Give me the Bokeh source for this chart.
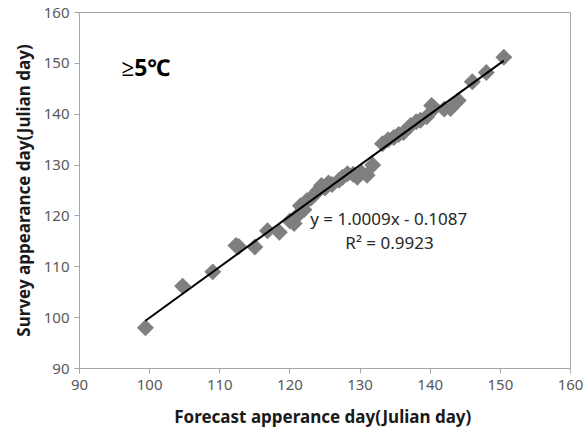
import numpy as np
from bokeh.plotting import figure
from bokeh.models import Label, FixedTicker, ColumnDataSource
from bokeh.embed import file_html
from bokeh.resources import INLINE

# Forecast vs survey appearance day (Julian day)
forecast = [99.4, 104.7, 109.0, 112.3, 112.7, 115.0, 116.8, 118.5, 120.0, 120.6,
            121.0, 121.5, 122.0, 122.4, 123.0, 123.5, 124.0, 124.5, 125.0, 125.5,
            126.0, 127.0, 127.5, 128.2, 129.0, 129.6, 130.2, 131.0, 131.8, 133.2,
            134.0, 134.8, 135.5, 136.2, 137.2, 138.0, 138.6, 139.5, 140.2, 140.6,
            142.0, 142.9, 144.0, 146.0, 148.0, 150.5]
survey = [98.0, 106.2, 109.0, 114.2, 114.0, 113.9, 117.1, 116.8, 119.0, 118.5,
          120.0, 122.0, 121.2, 123.0, 123.5, 124.2, 125.0, 126.0, 125.5, 126.5,
          126.2, 127.0, 127.6, 128.3, 128.2, 127.6, 128.5, 128.0, 130.0, 134.2,
          135.0, 135.4, 136.0, 136.4, 137.8, 138.5, 138.8, 139.5, 141.7, 141.2,
          141.0, 141.1, 142.7, 146.4, 148.2, 151.2]

slope = 1.0009
intercept = -0.1087
r2 = 0.9923

ticks = [90, 100, 110, 120, 130, 140, 150, 160]

p = figure(width=585, height=443, output_backend="svg", toolbar_location=None,
           x_range=(90, 160), y_range=(90, 160),
           min_border_left=79, min_border_right=15, min_border_top=12, min_border_bottom=75)

p.background_fill_color = "white"
p.border_fill_color = "white"
p.outline_line_color = "#a6a6a6"
p.outline_line_width = 1
p.xgrid.visible = False
p.ygrid.visible = False

for ax in (p.xaxis[0], p.yaxis[0]):
    ax.ticker = FixedTicker(ticks=ticks)
    ax.axis_line_color = "#a6a6a6"
    ax.major_tick_line_color = "#a6a6a6"
    ax.major_tick_out = 5
    ax.major_tick_in = 0
    ax.minor_tick_line_color = None
    ax.major_label_text_font = "Noto Sans"
    ax.major_label_text_font_size = "15px"
    ax.major_label_text_color = "#595959"
    ax.axis_label_text_font = "Noto Sans"
    ax.axis_label_text_font_size = "17px"
    ax.axis_label_text_font_style = "bold"
    ax.axis_label_text_color = "#1a1a1a"

p.xaxis.axis_label = "Forecast apperance  day(Julian day)"
p.yaxis.axis_label = "Survey appearance day(Julian day)"
p.xaxis.major_label_standoff = 6
p.yaxis.major_label_standoff = 5
p.xaxis.axis_label_standoff = 12
p.yaxis.axis_label_standoff = 6

src = ColumnDataSource(data=dict(x=forecast, y=survey))
p.scatter("x", "y", source=src, marker="square", angle=np.pi / 4, size=12,
          fill_color="#7f7f7f", line_color=None)

xs = np.array([min(forecast), max(forecast)])
p.line(xs, slope * xs + intercept, line_color="black", line_width=2)

p.add_layout(Label(x=96.0, y=149.3, text="≥5℃", text_font="Noto Sans",
                   text_font_size="23px", text_font_style="bold",
                   text_color="black", text_baseline="middle"))
p.add_layout(Label(x=122.9, y=119.5, text=f"y = {slope}x - {abs(intercept)}",
                   text_font="Noto Sans", text_font_size="17px",
                   text_color="#262626", text_baseline="middle"))
p.add_layout(Label(x=127.9, y=114.8, text=f"R² = {r2}",
                   text_font="Noto Sans", text_font_size="17px",
                   text_color="#262626", text_baseline="middle"))

open("out.html", "w").write(file_html(p, INLINE))
